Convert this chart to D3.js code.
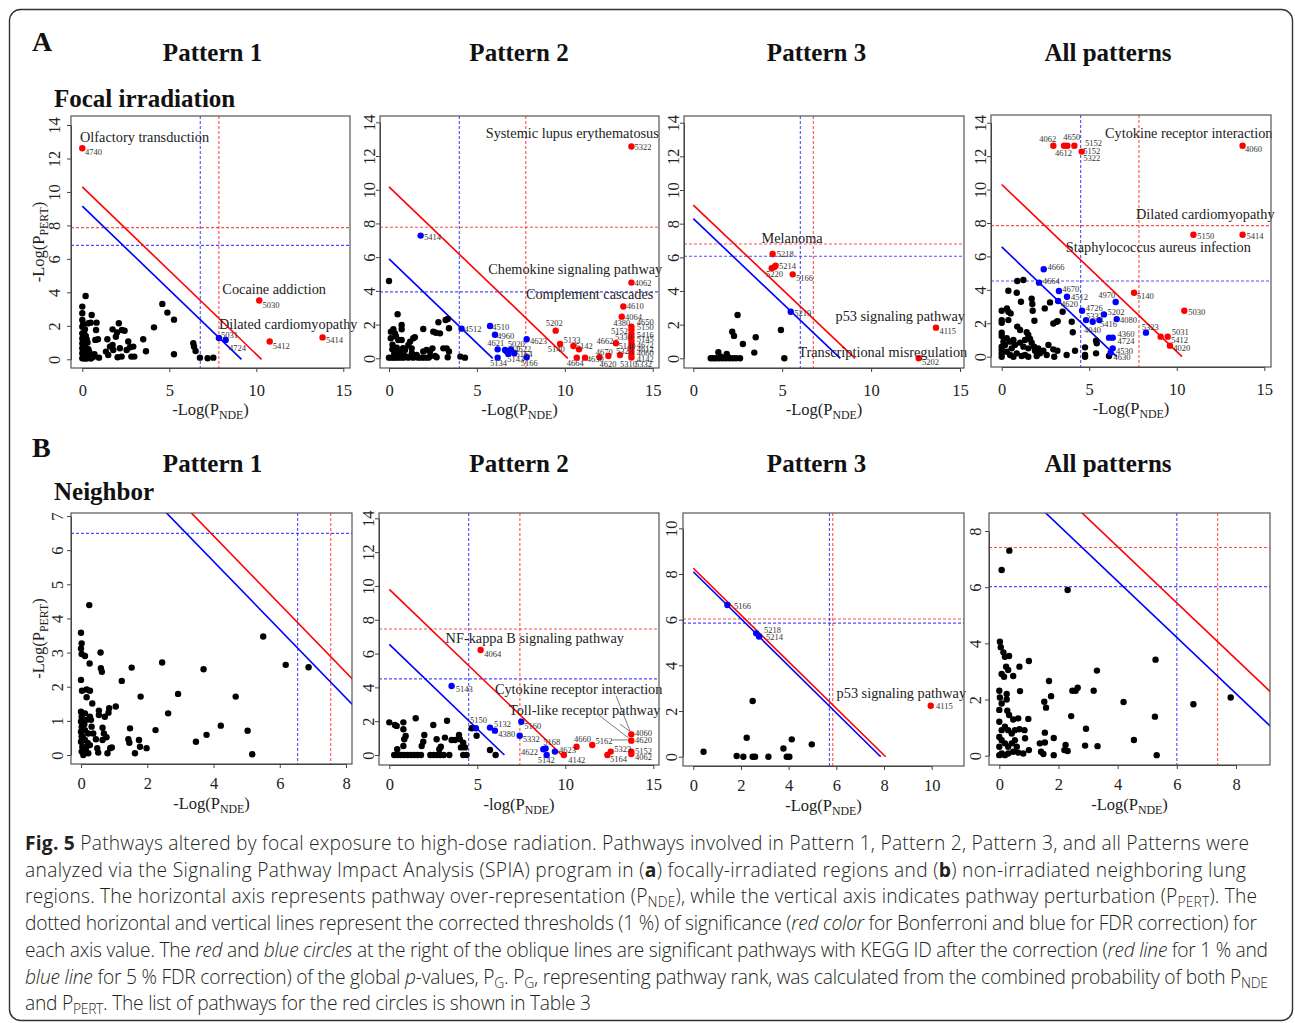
<!DOCTYPE html>
<html>
<head>
<meta charset="utf-8">
<script src="https://cdn.jsdelivr.net/npm/d3@7"></script>
<style>
  body { margin: 0; background: #fff; }
  svg text { font-family: 'Liberation Serif', 'Times New Roman', serif; }
  svg text.cap { font-family: 'Open Sans', 'Noto Sans', sans-serif; font-weight: 300; }
</style>
</head>
<body>
<svg id="fig"></svg>
<script>
// ---- tick values ----
let ticks0to15 = [0, 5, 10, 15]
let ticks0to14 = [0, 2, 4, 6, 8, 10, 12, 14]
let ticks0to8 = [0, 2, 4, 6, 8]
let ticks0to7 = [0, 1, 2, 3, 4, 5, 6, 7]
let ticks0to10 = [0, 2, 4, 6, 8, 10]

let patternTitles = ['Pattern 1', 'Pattern 2', 'Pattern 3', 'All patterns']

// ---- thresholds: [red horizontal, blue horizontal, blue vertical, red vertical] ----
let a1Cut = [7.87, 6.81, 6.78, 7.85]
let a2Cut = [7.77, 3.94, 4.0, 7.78]
let a3Cut = [6.79, 6.06, 6.02, 6.75]
let a4Cut = [7.84, 4.53, 4.51, 7.84]
let b1Cut = [null, 6.49, 6.54, 7.54]
let b2Cut = [7.45, 4.5, 4.51, 7.42]
let b3Cut = [6.03, 5.85, 5.71, 5.85]
let b4Cut = [7.41, 6.02, 6.0, 7.38]

// ---- oblique lines: [red y-intercept, red x-intercept, blue y-intercept, blue x-intercept] ----
let a1Diag = [10.3, 10.3, 9.15, 9.15]
let a2Diag = [10.17, 10.17, 5.9, 5.9]
let a3Diag = [9.1, 9.1, 8.3, 8.27]
let a4Diag = [10.3, 10.3, 6.57, 6.57]
let b1Diag = [10.42, 10.42, 9.67, 9.67]
let b2Diag = [9.8, 9.8, 6.54, 6.54]
let b3Diag = [8.25, 8.07, 8.1, 7.86]
let b4Diag = [11.44, 11.44, 10.21, 10.21]

// ---- A: focal irradiation ----
let a1Black = [[0,3.15],[0,2.75],[0,2.35],[0,1.95],[0,1.55],[0,1.25],[0,0.95],[0,0.66],[0,0.36],[0,0.06],
  [0.19,3.78],[0.54,2.65],[0.82,2.19],[0.48,2.19],[0.35,2.15],[0.79,1.75],[0.9,1.2],[0.75,1.16],[0.96,0.1],[0.57,0.26],[0.35,0.36],[0.67,0.16],
  [1.44,1.2],[1.74,1.79],[2.1,2.15],[1.93,1.35],[2.0,1.6],[2.28,1.75],[2.43,1.71],[2.16,0.66],[1.74,0.86],[1.59,0.76],[1.36,0.46],[1.49,0.26],
  [1.78,0.56],[2.03,0.12],[2.26,0.16],[2.64,1.06],[2.74,0.72],[2.93,0.76],[2.55,0.56],[2.82,0.16],[2.99,0.16],[3.5,1.2],[3.66,0.48],[4.12,1.91],
  [4.6,3.31],[4.89,2.79],[5.27,2.37],[5.27,0.3],[6.38,0.96],[6.42,0.76],[6.51,0.5],[6.76,0.1],[7.2,0.06],[7.53,0.1],
  [0.05,0.2],[0.1,0.4],[0.15,0.5],[0.2,0.7],[0.25,0.3],[0.3,0.1],[0.35,0.6],[0.4,0.45],[0.1,0.9],[0.05,1.1],[0.2,1.4],[0.15,1.8],[0.3,1.0],
  [0.45,0.2],[0.5,0.05],[0.6,0.15],[0.7,0.3],[0.25,0.05],[0.1,0.05],[0.35,0.25],[0.05,2.1],[0.1,1.6],[0.2,0.15],[0.15,0.95],[0.25,1.2]]
let a1Red = [[0,12.61],[10.17,3.51],[10.77,1.06],[13.81,1.31]]
let a1Blue = [[7.85,1.27],[8.24,1.16]]
let a1Ids = [['4740',0.15,12.37],['5030',10.36,3.27],['5412',10.94,0.82],['5414',14.0,1.16],['5031',7.97,1.45],['4724',8.43,0.66]]
let a1Names = [['Olfactory transduction',-0.13,13.27],['Cocaine addiction',8.05,4.18],['Dilated cardiomyopathy',7.85,2.11]]

let a2Black = [[0,4.59],[0.49,2.61],[0.11,1.58],[0.25,1.72],[0.1,1.19],[0.34,1.48],[0.53,1.09],[0.72,1.72],[0.72,1.98],[0.72,1.09],
  [0.19,0.53],[0.44,0.63],[0.63,0.4],[0.91,0.49],[1.1,0.79],[1.2,0.99],[1.38,1.19],[1.47,1.25],[1.29,0.59],[0.82,0.2],[1.0,0.1],[1.57,0.2],
  [1.95,1.74],[2.14,0.49],[1.95,0.4],[2.33,0.4],[2.47,0.59],[2.52,1.58],[2.67,1.52],[2.81,2.14],[2.9,1.48],[3.22,2.27],[3.34,2.33],[3.41,1.78],
  [3.09,0.59],[3.28,0.59],[3.41,0.4],[3.34,0.06],[2.71,0.06],[2.62,0.14],[2.33,0.1],[4.06,0.1],[4.32,0.04],
  [0,0.04],[0.15,0.04],[0.3,0.04],[0.45,0.04],[0.63,0.04],[0.82,0.04],[1.1,0.04],[1.38,0.04],[1.67,0.04],[1.86,0.04],[2.05,0.04],[2.24,0.04],
  [0.3,0.3],[0.55,0.2],[0.2,0.8],[0.8,0.6],[1.3,0.3],[0.4,1.3]]
let a2Red = [[13.79,12.56],[13.79,4.49],[13.33,3.07],[13.24,2.47],[13.79,1.88],[13.79,1.68],[13.79,1.45],[13.79,1.25],[13.79,1.05],[13.79,0.85],
  [13.79,0.65],[13.79,0.45],[13.79,0.25],[13.79,0.05],[9.48,1.64],[9.73,0.85],[10.49,0.73],[10.81,0.53],[10.68,0.04],[11.15,0.04],
  [11.97,0.06],[12.48,0.14],[12.91,0.89],[13.14,0.2]]
let a2Blue = [[1.8,7.28],[4.13,1.76],[5.75,1.92],[6.03,1.4],[6.18,0.53],[6.18,0.04],[6.6,0.49],[6.79,0.26],[6.94,0.53],[7.13,0.3],[6.7,0.4],[7.83,1.13],[7.83,0.06]]
let a2Ids = [['5322',13.96,12.56],['5414',1.99,7.18],['4062',13.96,4.49],['4610',13.52,3.1],['4064',13.43,2.47],['4512',4.29,1.72],
  ['4510',5.88,1.84],['4960',6.16,1.32],['4621',5.59,0.93],['5020',6.75,0.83],['4622',7.13,0.53],['5164',7.2,0.26],['5143',6.73,-0.06],
  ['5134',5.75,-0.3],['4623',8.02,1.05],['5166',7.49,-0.3],['5202',8.91,2.12],['5133',9.92,1.09],['5140',9.03,0.53],['5142',10.62,0.73],
  ['4664',10.11,-0.3],['4630',11.25,-0.06],['4670',11.76,0.4],['4620',11.97,-0.36],['4662',11.81,1.03],['5140',13.05,0.75],['5323',12.91,0.43],
  ['5310',13.14,-0.36],['5330',12.86,1.25],['5152',12.63,1.64],['4380',12.76,2.12],['4650',14.09,2.14],['5150',14.09,1.84],['5416',14.09,1.38],
  ['5145',14.09,1.13],['4672',14.09,0.79],['4612',14.09,0.55],['4060',14.09,0.3],['4142',14.09,-0.06],['5332',14.0,-0.36]]
let a2Names = [['Systemic lupus erythematosus',5.5,13.39],['Chemokine signaling pathway',5.65,5.28],['Complement cascades',7.79,3.8]]

let a3Black = [[2.49,2.57],[2.19,1.58],[2.29,1.33],[2.79,0.85],[3.51,1.25],[3.43,0.34],[4.93,1.68],[5.12,0],[1.41,0.36],[1.88,0.26],
  [0.98,0],[1.13,0],[1.28,0],[1.46,0],[1.65,0],[1.84,0],[2.03,0],[2.21,0],[2.4,0],[2.63,0],[1.55,0.1],[1.95,0.08]]
let a3Red = [[4.46,6.2],[4.63,5.5],[4.41,5.35],[4.55,5.42],[5.59,4.99],[13.65,1.82],[12.68,0]]
let a3Blue = [[5.48,2.77]]
let a3Ids = [['5218',4.69,6.2],['5214',4.82,5.5],['5220',4.09,4.99],['5166',5.78,4.75],['5219',5.68,2.71],['4115',13.84,1.62],['5202',12.86,-0.24]]
let a3Names = [['Melanoma',3.84,7.17],['p53 signaling pathway',8.0,2.51],['Transcriptional misregulation',5.9,0.36]]

let a4Black = [[0.38,3.95],[0.86,3.83],[1.1,3.29],[0.89,4.53],[1.24,4.59],[0.3,2.89],[0.38,2.69],[0.51,2.59],[0,2.75],[0,2.19],[0,2.03],
  [0.38,2.19],[0,1.44],[0,1.24],[0.89,1.8],[1.05,1.6],[1.71,3.47],[1.75,3.15],[1.77,2.75],[1.87,2.15],[2.46,2.89],[2.76,3.25],[3.48,2.69],
  [2.95,1.99],[3.14,2.09],[3.2,2.13],[4.0,2.09],[4.06,1.46],[1.43,1.46],[1.52,1.3],[1.33,1.0],[1.62,1.06],[1.71,0.84],[0.67,1.0],[0.76,0.7],
  [1.05,0.84],[1.24,0.6],[1.52,0.5],[1.85,0.6],[2.09,0.5],[2.38,0.36],[2.67,0.7],[2.95,0.44],[3.18,0.36],[3.0,0],[3.71,0.1],[4.19,0.36],
  [4.76,0.56],[4.76,0.1],[4.76,0],[5.39,0.96],[5.43,0.8],[5.39,0.2],[6.13,0.04],
  [0,0.6],[0,0.4],[0,0.2],[0,0],[0.19,0.7],[0.29,0.3],[0.48,0.1],[0.57,0.5],[0.67,0],[0.86,0.2],[0.1,0.9],[0.29,1.1],[0.48,0.9],
  [1.14,0.04],[1.33,0.1],[1.52,0],[2.0,0.04],[2.19,0.2],[2.57,0.1],[1.9,0.36]]
let a4Red = [[2.95,12.62],[3.56,12.62],[3.75,12.62],[4.15,12.62],[4.57,12.27],[13.76,12.62],[10.95,7.3],[13.76,7.3],[7.56,3.83],
  [10.43,2.75],[9.08,1.2],[9.48,1.2],[9.61,0.66]]
let a4Blue = [[2.4,5.23],[2.13,4.43],[3.27,3.93],[3.73,3.59],[3.22,3.33],[6.51,3.27],[4.59,2.75],[5.84,2.53],[4.82,2.19],[5.2,2.09],
  [5.58,2.19],[6.57,2.25],[8.24,1.44],[6.13,1.14],[6.34,1.14],[6.34,0.5],[6.22,0.24]]
let a4Ids = [['4062',2.15,13.02],['4650',3.52,13.16],['5152',4.76,12.8],['4612',3.05,12.2],['5152',4.66,12.31],['5322',4.66,11.9],
  ['4060',13.9,12.4],['5150',11.17,7.22],['5414',13.99,7.22],['4666',2.61,5.38],['4664',2.34,4.53],['4670',3.46,4.03],['4512',3.96,3.55],
  ['4620',3.39,3.15],['4970',5.52,3.69],['5140',7.71,3.63],['4726',4.8,2.89],['5202',6.05,2.69],['5332',4.82,2.43],['4080',6.76,2.19],
  ['5416',5.62,1.93],['5030',10.66,2.69],['5323',8.0,1.76],['5031',9.71,1.46],['5412',9.67,1.0],['4020',9.8,0.5],['4040',4.7,1.6],
  ['4360',6.61,1.34],['4724',6.61,0.94],['4530',6.53,0.36],['4630',6.38,0]]
let a4Names = [['Cytokine receptor interaction',5.9,13.36],['Dilated cardiomyopathy',7.67,8.52],['Staphylococcus aureus infection',3.66,6.58]]

// ---- B: neighbor ----
let b1Black = [[0.25,4.39],[0,3.58],[0.02,3.27],[0,3.12],[0.02,2.96],[0.12,2.9],[0.26,2.68],[0.59,3.0],[0.6,2.54],[0.63,2.44],[0,2.2],
  [0.03,1.88],[0.17,1.92],[0.27,1.88],[0.17,1.69],[0.34,1.51],[1.23,2.17],[1.53,2.56],[2.45,2.71],[1.8,1.71],[2.93,1.79],[3.7,2.51],
  [2.63,1.22],[4.67,1.71],[5.5,3.47],[6.18,2.64],[6.87,2.57],[1.05,1.42],[0.85,1.37],[0.83,1.24],[0.54,1.3],[0.54,1.17],[0.3,1.03],
  [0.72,1.12],[0.65,0.8],[0.69,0.63],[0.77,0.52],[0.65,0.44],[0.45,0.46],[0.49,0.2],[0.88,0.2],[0.93,0.22],[0.8,0.05],[0.52,0.07],
  [1.48,0.78],[1.43,0.46],[1.46,0.36],[1.75,0.44],[1.78,0.24],[1.63,0.05],[1.98,0.2],[2.25,0.73],[3.47,0.39],[3.79,0.59],[4.22,0.86],
  [5.03,0.71],[5.17,0.02],
  [0,1.27],[0.02,1.12],[0,0.98],[0.02,0.83],[0,0.68],[0.02,0.54],[0,0.39],[0.04,0.24],[0.02,0.1],[0.07,0],[0.12,0.44],[0.12,0.73],
  [0.17,1.03],[0.15,0.2],[0.22,0.05],[0.27,0.29],[0.22,0.63],[0.12,1.22],[0.27,1.12],[0.32,0.83],[0.37,0.63],[0.1,0.15],[0.2,0.35],
  [0.05,0.55],[0.1,0.9]]

let b2Black = [[0,1.93],[0.32,1.77],[0.42,1.72],[0.8,1.93],[0.8,1.52],[0.93,1.12],[0.85,0.93],[1.5,2.17],[1.99,1.18],[1.93,0.79],
  [1.84,0.53],[2.5,1.77],[2.69,0.93],[2.93,0.49],[2.84,0.34],[3.16,1.03],[3.28,2.03],[3.54,0.89],[3.73,0.89],[3.96,1.18],[4.01,0.93],
  [4.2,0.73],[4.07,0.45],[4.3,0.45],[4.68,1.58],[4.96,1.14],[5.72,0.3],[6.04,0],[0.45,0.34],[0.8,0.53],
  [0.28,0],[0.47,0],[0.66,0],[0.85,0],[1.04,0],[1.23,0],[1.42,0],[1.61,0],[1.8,0],[2.33,0],[2.52,0],[2.71,0],[2.9,0],[3.09,0],
  [3.41,0],[4.2,0],[4.39,0]]
let b2Red = [[5.19,6.21],[9.92,0],[10.64,0.49],[11.53,0.59],[12.58,0.2],[12.39,0],[13.75,1.22],[13.75,0.85],[13.75,0.2],[13.75,0.06]]
let b2Blue = [[3.54,4.08],[4.92,1.58],[5.72,1.62],[6.0,1.44],[7.5,1.97],[7.41,1.14],[8.75,0.34],[8.88,0.39],[8.94,0],[9.41,0.2]]
let b2Ids = [['4064',5.4,5.98],['5143',3.77,3.9],['5150',4.58,2.07],['5132',5.95,1.81],['4380',6.19,1.22],['5160',7.67,1.74],
  ['5332',7.58,0.95],['5168',8.75,0.75],['4622',7.48,0.2],['5142',8.43,-0.3],['4623',9.64,0.3],['4142',10.17,-0.3],['4660',10.49,0.95],
  ['5162',11.72,0.85],['5323',12.78,0.34],['5164',12.54,-0.26],['4060',13.96,1.28],['4620',13.96,0.89],['5152',13.96,0.26],['4062',13.96,-0.14]]
let b2Names = [['NF-kappa B signaling pathway',3.2,6.9],['Cytokine receptor interaction',6.0,3.88],['Toll-like receptor pathway',6.8,2.66]]
let b2Leaders = [[12.88,3.51,13.69,1.38],[11.78,2.46,13.69,0.93],[13.11,1.83,13.69,1.38],[12.67,0.89,13.69,0.89]]

let b3Black = [[0.43,0.22],[1.82,0.03],[2.1,0],[2.49,0],[2.59,0],[3.15,0],[2.24,0.83],[2.49,2.44],[3.78,0.36],[4.13,0.76],[4.97,0.54],[3.92,0],[4.03,0]]
let b3Red = [[9.96,2.23]]
let b3Blue = [[1.43,6.64],[2.64,5.4],[2.76,5.26]]
let b3Ids = [['5166',1.71,6.61],['5218',2.97,5.55],['5214',3.05,5.23],['4115',10.18,2.23]]
let b3Names = [['p53 signaling pathway',6.01,2.77]]

let b4Black = [[0.34,7.3],[0.08,6.61],[2.31,5.9],[5.28,3.42],[3.3,3.03],[2.43,1.41],[1.68,2.66],[1.75,2.12],[2.47,2.31],[2.58,2.31],
  [2.65,2.42],[3.19,2.31],[4.2,1.91],[4.55,0.56],[5.26,1.39],[5.32,0.02],[6.56,1.83],[7.82,2.07],[2.93,0.96],[2.9,0.36],[3.32,0.34],
  [2.24,0.38],[2.31,0.17],[2.2,0.2],[1.84,0.63],[1.84,0.02],[1.54,0.82],[1.54,0.47],[1.41,0.14],[1.49,0.06],[1.37,0.44],[1.52,1.92],
  [1.58,1.71],[1.0,3.37],[0.68,3.17],[0.7,2.3],[0.98,1.31],[1.0,0.2],[0.85,0.91],[0.68,0.94],[0.87,0.62],[0.64,1.33],[0.64,0.11],[0.81,0.08],
  [0.02,4.06],[0.05,3.86],[0.14,3.68],[0.19,3.52],[0.33,3.55],[0.23,3.17],[0.3,3.05],[0.47,2.84],[0.08,2.91],[0.16,2.81],[0,2.31],
  [0.02,2.07],[0.25,2.2],[0.08,1.86],[0.25,2.0],[0,1.63],[0.27,1.6],[0.33,1.45],[0.47,1.29],[0,1.21],[0.08,0.91],[0.19,1.03],[0.3,0.91],
  [0.42,0.79],[0.53,0.91],[0,0.67],[0.08,0.55],[0.19,0.44],[0.3,0.32],[0.42,0.44],[0.53,0.55],[0,0.32],[0.08,0.08],[0.19,0.02],[0.3,0.08],
  [0,0.02],[0.47,0.14],[0.59,0.32]]

// ---- caption ----
let captionLines = [
  [['Fig. 5', 'b'], [' Pathways altered by focal exposure to high-dose radiation. Pathways involved in Pattern 1, Pattern 2, Pattern 3, and all Patterns were', '']],
  [['analyzed via the Signaling Pathway Impact Analysis (SPIA) program in (', ''], ['a', 'b'], [') focally-irradiated regions and (', ''], ['b', 'b'], [') non-irradiated neighboring lung', '']],
  [['regions. The horizontal axis represents pathway over-representation (P', ''], ['NDE', 'sub'], ['), while the vertical axis indicates pathway perturbation (P', ''], ['PERT', 'sub'], ['). The', '']],
  [['dotted horizontal and vertical lines represent the corrected thresholds (1 %) of significance (', ''], ['red color', 'i'], [' for Bonferroni and blue for FDR correction) for', '']],
  [['each axis value. The ', ''], ['red', 'i'], [' and ', ''], ['blue circles', 'i'], [' at the right of the oblique lines are significant pathways with KEGG ID after the correction (', ''], ['red line', 'i'], [' for 1 % and', '']],
  [['blue line', 'i'], [' for 5 % FDR correction) of the global ', ''], ['p', 'i'], ['-values, P', ''], ['G', 'sub'], ['. P', ''], ['G', 'sub'], [', representing pathway rank, was calculated from the combined probability of both P', ''], ['NDE', 'sub']],
  [['and P', ''], ['PERT', 'sub'], ['. The list of pathways for the red circles is shown in Table 3', '']]
]
// right end of each caption line
let captionEnds = [1249, 1246, 1257, 1257, 1268, 1268, 591]

let width = 1295
let height = 1023

let svg = d3.select('#fig').attr('width', width).attr('height', height)

let panels = [
  {box: [71, 116, 350, 368], xPx: [82.3, 343.3], xRef: [0, 15], yPx: [359.3, 125], yRef: [0, 14], xTicks: ticks0to15, yTicks: ticks0to14,
   yOff: 11, pad: 12, tOff: 47, xLab: '-Log(P', yLab: true, black: a1Black, red: a1Red, blue: a1Blue, ids: a1Ids, names: a1Names, cut: a1Cut, diag: a1Diag},
  {box: [380, 116, 659, 368], xPx: [389, 652.7], xRef: [0, 15], yPx: [358.3, 122.3], yRef: [0, 14], xTicks: ticks0to15, yTicks: ticks0to14,
   yOff: 5, pad: 12, tOff: 47, xLab: '-Log(P', black: a2Black, red: a2Red, blue: a2Blue, ids: a2Ids, names: a2Names, cut: a2Cut, diag: a2Diag},
  {box: [684, 116, 964, 368], xPx: [693.3, 960], xRef: [0, 15], yPx: [358.3, 122.7], yRef: [0, 14], xTicks: ticks0to15, yTicks: ticks0to14,
   yOff: 5, pad: 12, tOff: 47, xLab: '-Log(P', black: a3Black, red: a3Red, blue: a3Blue, ids: a3Ids, names: a3Names, cut: a3Cut, diag: a3Diag},
  {box: [991, 115, 1271, 367], xPx: [1001.7, 1264.3], xRef: [0, 15], yPx: [356.7, 122.7], yRef: [0, 14], xTicks: ticks0to15, yTicks: ticks0to14,
   yOff: 5, pad: 12, tOff: 47, xLab: '-Log(P', black: a4Black, red: a4Red, blue: a4Blue, ids: a4Ids, names: a4Names, cut: a4Cut, diag: a4Diag},
  {box: [71, 513, 352, 764], xPx: [81, 346], xRef: [0, 8], yPx: [755, 516], yRef: [0, 7], xTicks: ticks0to8, yTicks: ticks0to7,
   yOff: 8, pad: 9, tOff: 45, xLab: '-Log(P', yLab: true, black: b1Black, red: [], blue: [], ids: [], names: [], cut: b1Cut, diag: b1Diag},
  {box: [379, 513, 659, 765], xPx: [389.3, 653.3], xRef: [0, 15], yPx: [755, 518.3], yRef: [0, 14], xTicks: ticks0to15, yTicks: ticks0to14,
   yOff: 5, pad: 9, tOff: 45, xLab: '-log(P', black: b2Black, red: b2Red, blue: b2Blue, ids: b2Ids, names: b2Names, cut: b2Cut, diag: b2Diag, leaders: b2Leaders},
  {box: [683, 513, 964, 766], xPx: [693.3, 931.7], xRef: [0, 10], yPx: [756.7, 528.3], yRef: [0, 10], xTicks: ticks0to10, yTicks: ticks0to10,
   yOff: 6, pad: 9, tOff: 45, xLab: '-Log(P', black: b3Black, red: b3Red, blue: b3Blue, ids: b3Ids, names: b3Names, cut: b3Cut, diag: b3Diag},
  {box: [989, 513, 1270, 765], xPx: [999.3, 1236], xRef: [0, 8], yPx: [755.7, 531], yRef: [0, 8], xTicks: ticks0to8, yTicks: ticks0to8,
   yOff: 8, pad: 9, tOff: 45, xLab: '-Log(P', black: b4Black, red: [], blue: [], ids: [], names: [], cut: b4Cut, diag: b4Diag}
]

let drawFrame = () => {
  svg.append('rect')
     .attr('x', 9.5).attr('y', 9.5)
     .attr('width', 1283).attr('height', 1011)
     .attr('rx', 11)
     .attr('fill', 'none')
     .attr('stroke', '#333')
     .attr('stroke-width', 1.4)
}

let drawHeadings = () => {
  let heads = svg.append('g').attr('font-weight', 'bold').attr('fill', '#111')
  heads.append('text').attr('x', 32).attr('y', 51).attr('font-size', 28).text('A')
  heads.append('text').attr('x', 32).attr('y', 457).attr('font-size', 28).text('B')
  let titleX = [212.5, 519, 816.5, 1108]
  patternTitles.forEach((t, i) => {
    heads.append('text').attr('x', titleX[i]).attr('y', 61).attr('text-anchor', 'middle').attr('font-size', 25).text(t)
    heads.append('text').attr('x', titleX[i]).attr('y', 472).attr('text-anchor', 'middle').attr('font-size', 25).text(t)
  })
  heads.append('text').attr('x', 54).attr('y', 107).attr('font-size', 25).text('Focal irradiation')
  heads.append('text').attr('x', 54).attr('y', 500).attr('font-size', 25).text('Neighbor')
}

let subLabel = (sel, main, sub) => {
  sel.append('tspan').text(main)
  sel.append('tspan').attr('font-size', '72%').attr('dy', 4).text(sub)
  sel.append('tspan').attr('dy', -4).text(')')
}

let drawPanel = (p, i) => {
  let [l, t, r, b] = p.box
  let x = d3.scaleLinear().domain(p.xRef).range(p.xPx)
  let y = d3.scaleLinear().domain(p.yRef).range(p.yPx)

  svg.append('clipPath').attr('id', 'clip' + i)
     .append('rect').attr('x', l).attr('y', t).attr('width', r - l).attr('height', b - t)

  let g = svg.append('g')
  let inner = g.append('g').attr('clip-path', 'url(#clip' + i + ')')

  // corrected thresholds
  let [rh, bh, bv, rv] = p.cut
  let dash = (x1, y1, x2, y2, col) => {
    inner.append('line')
         .attr('x1', x1).attr('y1', y1).attr('x2', x2).attr('y2', y2)
         .attr('stroke', col).attr('stroke-width', 1.1)
         .attr('stroke-dasharray', '3,2').attr('stroke-opacity', 0.8)
  }
  if (rh != null) dash(l, y(rh), r, y(rh), '#ff2020')
  dash(l, y(bh), r, y(bh), '#2020ff')
  dash(x(bv), t, x(bv), b, '#2020ff')
  dash(x(rv), t, x(rv), b, '#ff2020')

  // oblique lines
  let [ry, rx, by, bx] = p.diag
  inner.append('line')
       .attr('x1', x(0)).attr('y1', y(ry)).attr('x2', x(rx)).attr('y2', y(0))
       .attr('stroke', 'red').attr('stroke-width', 1.6)
  inner.append('line')
       .attr('x1', x(0)).attr('y1', y(by)).attr('x2', x(bx)).attr('y2', y(0))
       .attr('stroke', 'blue').attr('stroke-width', 1.6)

  // leader lines
  if (p.leaders) {
    g.selectAll('.leader' + i)
     .data(p.leaders)
     .enter()
     .append('line')
     .attr('x1', (d) => x(d[0])).attr('y1', (d) => y(d[1]))
     .attr('x2', (d) => x(d[2])).attr('y2', (d) => y(d[3]))
     .attr('stroke', '#444').attr('stroke-width', 0.7)
  }

  // points
  let dots = (data, col) => {
    g.append('g')
     .selectAll('circle')
     .data(data)
     .enter()
     .append('circle')
     .attr('cx', (d) => x(d[0]))
     .attr('cy', (d) => y(d[1]))
     .attr('r', 3.2)
     .attr('fill', col)
  }
  dots(p.black, '#000')
  dots(p.blue, '#0000ff')
  dots(p.red, '#ff0000')

  // labels
  g.append('g')
   .selectAll('text')
   .data(p.ids)
   .enter()
   .append('text')
   .attr('x', (d) => x(d[1]))
   .attr('y', (d) => y(d[2]))
   .attr('dominant-baseline', 'central')
   .attr('font-size', 8.5)
   .attr('fill', '#333')
   .text((d) => d[0])

  g.append('g')
   .selectAll('text')
   .data(p.names)
   .enter()
   .append('text')
   .attr('x', (d) => x(d[1]))
   .attr('y', (d) => y(d[2]))
   .attr('dominant-baseline', 'central')
   .attr('font-size', 14.3)
   .attr('fill', '#222')
   .text((d) => d[0])

  // box
  g.append('rect')
   .attr('x', l).attr('y', t).attr('width', r - l).attr('height', b - t)
   .attr('fill', 'none').attr('stroke', '#555').attr('stroke-width', 1.2)

  // axes
  let xAxis = d3.axisBottom(x).tickValues(p.xTicks).tickSize(4).tickSizeOuter(0).tickPadding(p.pad)
  let xa = g.append('g').attr('transform', 'translate(0,' + b + ')').call(xAxis)
  xa.attr('font-family', null).attr('font-size', 16.5)
  xa.selectAll('path, line').attr('stroke', '#444')
  xa.selectAll('text').attr('fill', '#222')

  let yAxis = d3.axisLeft(y).tickValues(p.yTicks).tickSize(4).tickSizeOuter(0).tickFormat('')
  let ya = g.append('g').attr('transform', 'translate(' + l + ',0)').call(yAxis)
  ya.attr('font-family', null).attr('font-size', 16.5)
  ya.selectAll('path, line').attr('stroke', '#444')
  ya.selectAll('.tick')
    .append('text')
    .attr('transform', 'translate(' + (-p.yOff) + ',0) rotate(-90)')
    .attr('text-anchor', 'middle')
    .attr('fill', '#222')
    .text((d) => d)

  // axis titles
  let xt = g.append('text')
            .attr('x', (l + r) / 2).attr('y', b + p.tOff)
            .attr('text-anchor', 'middle').attr('font-size', 16.5).attr('fill', '#222')
  subLabel(xt, p.xLab, 'NDE')

  if (p.yLab) {
    let yt = g.append('text')
              .attr('transform', 'translate(44,' + ((t + b) / 2) + ') rotate(-90)')
              .attr('text-anchor', 'middle').attr('font-size', 16.5).attr('fill', '#222')
    subLabel(yt, '-Log(P', 'PERT')
  }
}

let drawCaption = () => {
  let cap = svg.append('g').attr('fill', '#231f20')
  let rows = captionLines.map((line, i) => {
    let txt = cap.append('text').attr('class', 'cap').attr('x', 25).attr('y', 850 + i * 26.7)
    let shift = 0
    line.forEach((seg) => {
      let ts = txt.append('tspan').text(seg[0])
      if (seg[1] == 'sub') {
        ts.attr('font-size', '72%').attr('dy', 4 - shift)
        shift = 4
      } else if (shift != 0) {
        ts.attr('dy', -shift)
        shift = 0
      }
      if (seg[1] == 'b') ts.attr('font-weight', 'bold')
      if (seg[1] == 'i') ts.attr('font-style', 'italic')
    })
    return txt
  })
  // pick a size from the average line, then stretch each line's spacing to its measured end
  cap.attr('font-size', 20)
  let ratio = d3.mean(rows.slice(0, 6), (row, i) => (captionEnds[i] - 25) / row.node().getComputedTextLength())
  cap.attr('font-size', 20 * ratio)
  rows.forEach((row, i) => {
    row.attr('textLength', captionEnds[i] - 25).attr('lengthAdjust', 'spacing')
  })
}

drawFrame()
drawHeadings()
panels.forEach(drawPanel)
drawCaption()
</script>
</body>
</html>
